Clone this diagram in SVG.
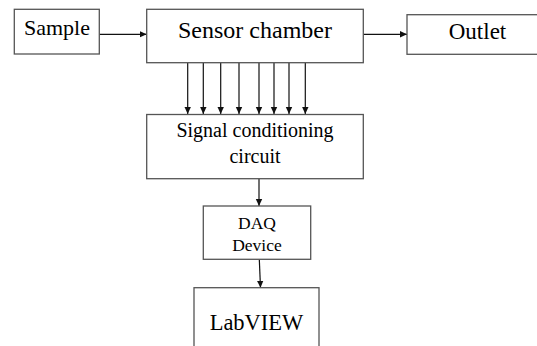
<svg xmlns="http://www.w3.org/2000/svg" width="537" height="346" viewBox="0 0 537 346">
<style>
.box{fill:#fff;stroke:#555;stroke-width:1.3}
.ln{stroke:#111;stroke-width:1.2;fill:none;marker-end:url(#ah)}
text{font-family:"Liberation Serif","Times New Roman",serif;fill:#000;text-anchor:middle}
</style>
<defs>
<marker id="ah" markerWidth="8" markerHeight="8" refX="7" refY="4" orient="auto" markerUnits="userSpaceOnUse">
<path d="M0,0.8 L7,4 L0,7.2 Z" fill="#111"/>
</marker>
</defs>
<rect width="537" height="346" fill="#fff"/>
<g id="connectors">
<line class="ln" x1="99.3" y1="34.3" x2="146.7" y2="34.3"/>
<line class="ln" x1="363.3" y1="34.3" x2="407" y2="34.3"/>
<line class="ln" x1="187.7" y1="62.7" x2="187.7" y2="114"/>
<line class="ln" x1="203.3" y1="62.7" x2="203.3" y2="114"/>
<line class="ln" x1="220.7" y1="62.7" x2="220.7" y2="114"/>
<line class="ln" x1="239" y1="62.7" x2="239" y2="114"/>
<line class="ln" x1="259" y1="62.7" x2="259" y2="114"/>
<line class="ln" x1="274" y1="62.7" x2="274" y2="114"/>
<line class="ln" x1="289" y1="62.7" x2="289" y2="114"/>
<line class="ln" x1="305.3" y1="62.7" x2="305.3" y2="114"/>
<line class="ln" x1="259" y1="178.7" x2="259" y2="206"/>
<line class="ln" x1="259.3" y1="259.3" x2="260.5" y2="287.7"/>
</g>
<g id="sample">
<rect class="box" x="14.3" y="9.3" width="85" height="44.7"/>
<text x="57" y="34.7" font-size="22">Sample</text>
</g>
<g id="sensor">
<rect class="box" x="146.7" y="9.3" width="216.6" height="53.4"/>
<text x="255" y="37.7" font-size="24">Sensor chamber</text>
</g>
<g id="outlet">
<rect class="box" x="407" y="14.7" width="140" height="39.6"/>
<text x="477.5" y="39.3" font-size="23">Outlet</text>
</g>
<g id="signal">
<rect class="box" x="146.7" y="114.5" width="216.6" height="64.2"/>
<text x="255" y="136.7" font-size="20">Signal conditioning</text>
<text x="255" y="163.3" font-size="20">circuit</text>
</g>
<g id="daq">
<rect class="box" x="203.3" y="206" width="107.4" height="53.3"/>
<text x="257" y="229" font-size="17.5">DAQ</text>
<text x="257" y="251" font-size="17.5">Device</text>
</g>
<g id="labview">
<rect class="box" x="194" y="287.7" width="125" height="70"/>
<text x="256.5" y="330" font-size="22.5">LabVIEW</text>
</g>
</svg>
